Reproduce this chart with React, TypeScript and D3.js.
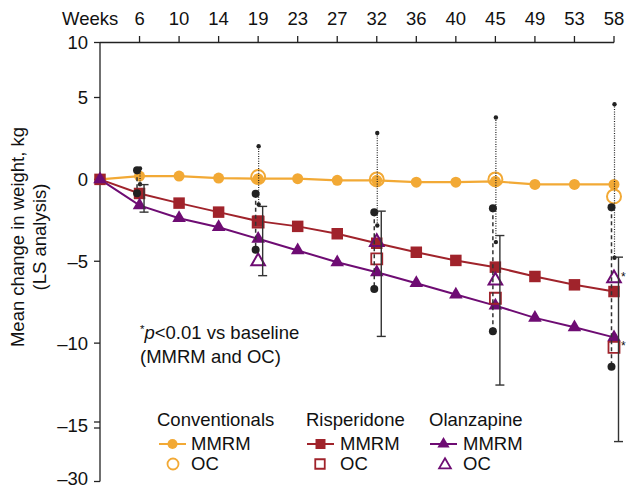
import React from "react";
import * as d3 from "d3";

const weeks = [0, 6, 10, 14, 19, 23, 27, 32, 36, 40, 45, 49, 53, 58];
const ocWeeks = [19, 32, 45, 58];
const ciWeeks = [6, 19, 32, 45, 58];
const yTicks = [10, 5, 0, -5, -10, -15, -30];

const convMMRM = [0, 0.2, 0.2, 0.08, 0.04, 0.04, -0.06, -0.06, -0.17, -0.17, -0.12, -0.31, -0.31, -0.31];
const rispMMRM = [0, -0.86, -1.45, -2.0, -2.55, -2.87, -3.32, -3.9, -4.45, -4.95, -5.36, -5.93, -6.44, -6.85];
const olanMMRM = [0, -1.59, -2.37, -2.92, -3.63, -4.34, -5.06, -5.67, -6.34, -7.03, -7.71, -8.46, -9.03, -9.65];

const convOC = [0.14, 0, 0, -1.04];
const rispOC = [-2.61, -4.86, -7.26, -10.26];
const olanOC = [-5.0, -3.83, -6.18, -6.05];

// whiskers at weeks 6, 19, 32, 45, 58
const convLo = [-0.3, -1.53, -2.82, -3.83, -4.79];
const convHi = [0.67, 2.02, 2.83, 3.78, 4.59];
const rispLo = [-0.84, -4.3, -6.7, -9.28, -11.44];
const rispHi = [0.55, -0.88, -2.0, -1.76, -1.7];
const olanLo = [-2.0, -5.88, -9.59, -12.56, -19.4];
const olanHi = [-0.32, -1.65, -1.94, -3.43, -4.75];

const ORANGE = "#F2A935";
const RED = "#A0232B";
const PURPLE = "#6E0C73";
const FONT = "'Liberation Sans', Arial, Helvetica, sans-serif";
const FS = 18.5;

export default function App() {
  const x = d3.scalePoint<string>().domain(weeks.map(String)).range([100, 614]);
  const y = d3.scaleLinear().domain([-30, -15, 5, 10]).range([481.5, 425, 97.5, 42.5]);
  const X = (w: number) => x(String(w)) as number;

  const lineGen = (vals: number[]) =>
    d3.line<number>().x((_, i) => X(weeks[i])).y((v) => y(v))(vals) || "";

  const tri = (size: number) => d3.symbol().type(d3.symbolTriangle).size(size)() || "";
  const sq = (size: number) => d3.symbol().type(d3.symbolSquare).size(size)() || "";

  return (
    <svg width={626} height={488} style={{ position: "absolute", left: 0, top: 0, background: "#fff" }} fontFamily={FONT}>
      {/* top axis */}
      <line x1={100} x2={614} y1={42.5} y2={42.5} stroke="#222" strokeWidth={1.3} />
      <text x={62} y={25} fontSize={FS} fill="#111">Weeks</text>
      {weeks.slice(1).map((w) => (
        <g key={w}>
          <line x1={X(w)} x2={X(w)} y1={36} y2={42.5} stroke="#222" strokeWidth={1.3} />
          <text x={X(w)} y={25} fontSize={FS} textAnchor="middle" fill="#111">{w}</text>
        </g>
      ))}
      {/* left axis */}
      <line x1={100} x2={100} y1={42.5} y2={481.5} stroke="#222" strokeWidth={1.3} />
      {yTicks.map((t) => (
        <g key={t}>
          <line x1={94} x2={100} y1={y(t) + (t === -15 ? -3 : 0)} y2={y(t) + (t === -15 ? -3 : 0)} stroke="#222" strokeWidth={1.3} />
          {t === -15 && <line x1={94} x2={100} y1={y(t) + 3} y2={y(t) + 3} stroke="#222" strokeWidth={1.3} />}
          <text x={88} y={t === -30 ? y(t) + 3.5 : y(t) + 6.5} fontSize={FS} textAnchor="end" fill="#111">
            {t < 0 ? "–" + Math.abs(t) : t}
          </text>
        </g>
      ))}
      <text transform="translate(24,237) rotate(-90)" textAnchor="middle" fontSize={FS} fill="#111">
        Mean change in weight, kg
      </text>
      <text transform="translate(46,237) rotate(-90)" textAnchor="middle" fontSize={FS} fill="#111">
        (LS analysis)
      </text>

      {/* annotation */}
      <text x={140} y={339} fontSize={FS} fill="#111">
        <tspan fontSize={11.5} dy={-6}>*</tspan>
        <tspan fontStyle="italic" dy={6}>p</tspan>
        <tspan>{"<0.01 vs baseline"}</tspan>
      </text>
      <text x={140} y={363} fontSize={FS} fill="#111">(MMRM and OC)</text>

      {/* MMRM lines */}
      <path d={lineGen(convMMRM)} fill="none" stroke={ORANGE} strokeWidth={2.2} />
      <path d={lineGen(rispMMRM)} fill="none" stroke={RED} strokeWidth={2} />
      <path d={lineGen(olanMMRM)} fill="none" stroke={PURPLE} strokeWidth={2} />

      {/* MMRM markers */}
      {convMMRM.map((v, i) => (
        <circle key={"c" + i} cx={X(weeks[i])} cy={y(v)} r={5.5} fill={ORANGE} />
      ))}
      {rispMMRM.map((v, i) => (
        <path key={"r" + i} d={sq(132)} transform={`translate(${X(weeks[i])},${y(v)})`} fill={RED} />
      ))}
      {olanMMRM.map((v, i) => (
        <path key={"o" + i} d={tri(80)} transform={`translate(${X(weeks[i])},${y(v)})`} fill={PURPLE} />
      ))}

      {/* OC markers */}
      {convOC.map((v, i) => (
        <circle key={"co" + i} cx={X(ocWeeks[i])} cy={y(v)} r={7} fill="none" stroke={ORANGE} strokeWidth={2} />
      ))}
      {rispOC.map((v, i) => (
        <path key={"ro" + i} d={sq(121)} transform={`translate(${X(ocWeeks[i])},${y(v)})`} fill="none" stroke={RED} strokeWidth={1.8} />
      ))}
      {olanOC.map((v, i) => (
        <path key={"oo" + i} d={tri(80)} transform={`translate(${X(ocWeeks[i])},${y(v)})`} fill="none" stroke={PURPLE} strokeWidth={2} />
      ))}

      {/* whiskers */}
      {ciWeeks.map((w, i) => {
        const cx = X(w);
        const xd = cx + 0.5;
        const xr = cx - 2.5;
        const xs = cx + 4.5;
        return (
          <g key={"ci" + w}>
            <line x1={xd} x2={xd} y1={y(convHi[i])} y2={y(convLo[i])} stroke="#222" strokeWidth={1.2} strokeDasharray="1,1.4" />
            <circle cx={xd} cy={y(convHi[i])} r={2.2} fill="#222" />
            <circle cx={xd} cy={y(convLo[i])} r={2.2} fill="#222" />
            <line x1={xr} x2={xr} y1={y(rispHi[i])} y2={y(rispLo[i])} stroke="#333" strokeWidth={1.5} strokeDasharray="4,3" />
            <circle cx={xr} cy={y(rispHi[i])} r={4} fill="#222" />
            <circle cx={xr} cy={y(rispLo[i])} r={4} fill="#222" />
            <line x1={xs} x2={xs} y1={y(olanHi[i])} y2={y(olanLo[i])} stroke="#333" strokeWidth={1.4} />
            <line x1={xs - 4.5} x2={xs + 4.5} y1={y(olanHi[i])} y2={y(olanHi[i])} stroke="#333" strokeWidth={1.4} />
            <line x1={xs - 4.5} x2={xs + 4.5} y1={y(olanLo[i])} y2={y(olanLo[i])} stroke="#333" strokeWidth={1.4} />
          </g>
        );
      })}
      <text x={621} y={y(olanOC[3]) + 3} fontSize={12} fill="#111">*</text>
      <text x={621} y={y(rispOC[3]) + 3} fontSize={12} fill="#111">*</text>

      {/* legend */}
      <g fontSize={FS} fill="#111">
        <text x={157} y={426}>Conventionals</text>
        <line x1={159} x2={186} y1={444} y2={444} stroke={ORANGE} strokeWidth={2} />
        <circle cx={172.5} cy={444} r={5} fill={ORANGE} />
        <text x={191} y={450}>MMRM</text>
        <circle cx={173} cy={464} r={5.5} fill="none" stroke={ORANGE} strokeWidth={1.8} />
        <text x={191} y={470}>OC</text>

        <text x={306} y={426}>Risperidone</text>
        <line x1={307} x2={334} y1={444} y2={444} stroke={RED} strokeWidth={2} />
        <path d={sq(100)} transform="translate(320.5,444)" fill={RED} />
        <text x={340} y={450}>MMRM</text>
        <path d={sq(90)} transform="translate(320,464)" fill="none" stroke={RED} strokeWidth={1.8} />
        <text x={340} y={470}>OC</text>

        <text x={429} y={426}>Olanzapine</text>
        <line x1={430} x2={457} y1={444} y2={444} stroke={PURPLE} strokeWidth={2} />
        <path d={tri(65)} transform="translate(443.5,444)" fill={PURPLE} />
        <text x={463} y={450}>MMRM</text>
        <path d={tri(60)} transform="translate(445,465)" fill="none" stroke={PURPLE} strokeWidth={1.8} />
        <text x={463} y={470}>OC</text>
      </g>
    </svg>
  );
}
